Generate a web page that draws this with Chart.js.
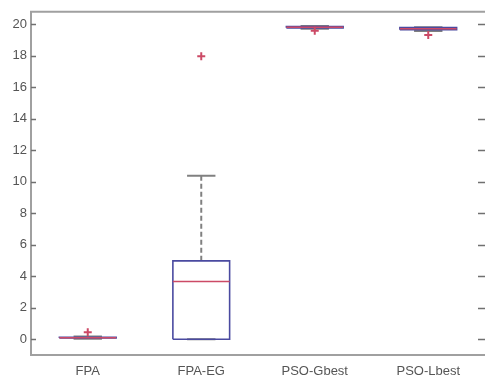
<!DOCTYPE html>
<html>
<head>
<meta charset="utf-8">
<script src="https://cdn.jsdelivr.net/npm/chart.js@4/dist/chart.umd.min.js"></script>
<style>
  html, body { margin: 0; padding: 0; background: #ffffff; }
  #wrap { width: 491px; height: 376px; }
</style>
</head>
<body>
<div id="wrap"><canvas id="c" width="491" height="376"></canvas></div>
<script>
// ---- data ----
const categories   = ['FPA', 'FPA-EG', 'PSO-Gbest', 'PSO-Lbest'];
const lowerWhisker = [0.04, 0.0, 19.72, 19.58];
const q1           = [0.08, 0.0, 19.78, 19.66];
const median       = [0.10, 3.67, 19.82, 19.72];
const q3           = [0.13, 4.98, 19.86, 19.80];
const upperWhisker = [0.18, 10.38, 19.90, 19.82];
const outliers     = [[0.45], [17.98], [19.60], [19.33]];
const yTicks       = [0, 2, 4, 6, 8, 10, 12, 14, 16, 18, 20];
const yRange       = [-1, 20.8];

// ---- styles ----
const BOX = '#4a4aa0', MED = '#cc4a66', WHISK = '#808080', OUT = '#cc4a66';
const BOX_HALF = 0.25, CAP_HALF = 0.125;

function seg(pts, color, width, dash, order) {
  return { type: 'line', data: pts, borderColor: color, borderWidth: width,
           borderDash: dash || [], pointRadius: 0, fill: false, tension: 0, order: order };
}

const datasets = [];
categories.forEach((c, i) => {
  const x = i + 1;
  // whiskers (dashed)
  datasets.push(seg([{x: x, y: q3[i]}, {x: x, y: upperWhisker[i]}], WHISK, 2, [5, 3], 5));
  datasets.push(seg([{x: x, y: q1[i]}, {x: x, y: lowerWhisker[i]}], WHISK, 2, [5, 3], 5));
  // caps
  datasets.push(seg([{x: x - CAP_HALF, y: upperWhisker[i]}, {x: x + CAP_HALF, y: upperWhisker[i]}], WHISK, 2, [], 4));
  datasets.push(seg([{x: x - CAP_HALF, y: lowerWhisker[i]}, {x: x + CAP_HALF, y: lowerWhisker[i]}], WHISK, 2, [], 4));
  // box
  datasets.push(seg([
    {x: x - BOX_HALF, y: q1[i]}, {x: x + BOX_HALF, y: q1[i]},
    {x: x + BOX_HALF, y: q3[i]}, {x: x - BOX_HALF, y: q3[i]},
    {x: x - BOX_HALF, y: q1[i]}
  ], BOX, 1.6, [], 3));
  // median
  datasets.push(seg([{x: x - BOX_HALF, y: median[i]}, {x: x + BOX_HALF, y: median[i]}], MED, 1.6, [], 2));
  // outliers
  datasets.push({ type: 'line', showLine: false, order: 1,
    data: outliers[i].map(v => ({x: x, y: v})),
    pointStyle: 'cross', pointRadius: 4, pointBorderWidth: 2,
    pointBorderColor: OUT, pointBackgroundColor: OUT, borderColor: OUT });
});

const frame = {
  id: 'frame',
  afterDraw(chart) {
    const { ctx, chartArea: a, scales: { y } } = chart;
    ctx.save();
    ctx.strokeStyle = '#a0a0a0';
    ctx.lineWidth = 2;
    ctx.beginPath();
    ctx.moveTo(a.right, a.top); ctx.lineTo(a.left, a.top);
    ctx.lineTo(a.left, a.bottom); ctx.lineTo(a.right, a.bottom);
    ctx.stroke();
    ctx.strokeStyle = '#707070';
    ctx.lineWidth = 1.5;
    y.ticks.forEach(t => {
      const py = Math.round(y.getPixelForValue(t.value)) + 0.5;
      ctx.beginPath();
      ctx.moveTo(a.left, py); ctx.lineTo(a.left + 5, py);
      ctx.moveTo(a.right - 7, py); ctx.lineTo(a.right, py);
      ctx.stroke();
    });
    ctx.restore();
  }
};

new Chart(document.getElementById('c'), {
  type: 'line',
  data: { datasets },
  options: {
    responsive: false,
    animation: false,
    layout: { padding: { top: 10, right: 0, left: 0, bottom: 0 } },
    plugins: { legend: { display: false }, tooltip: { enabled: false } },
    scales: {
      x: {
        type: 'linear', min: 0.5, max: 4.5,
        afterBuildTicks: s => { s.ticks = categories.map((c, i) => ({ value: i + 1 })); },
        afterFit: s => { s.height = 21; },
        grid: { display: false, drawTicks: false },
        border: { display: false },
        ticks: { padding: 9, color: '#555', font: { family: 'Liberation Sans', size: 13 },
                 maxRotation: 0, autoSkip: false,
                 callback: v => categories[Math.round(v) - 1] }
      },
      y: {
        min: yRange[0], max: yRange[1],
        afterBuildTicks: s => { s.ticks = yTicks.map(v => ({ value: v })); },
        afterFit: s => { s.width = 31; },
        grid: { display: false, drawTicks: false },
        border: { display: false },
        ticks: { padding: 4, color: '#555', font: { family: 'Liberation Sans', size: 13 } }
      }
    }
  },
  plugins: [frame]
});
</script>
</body>
</html>
